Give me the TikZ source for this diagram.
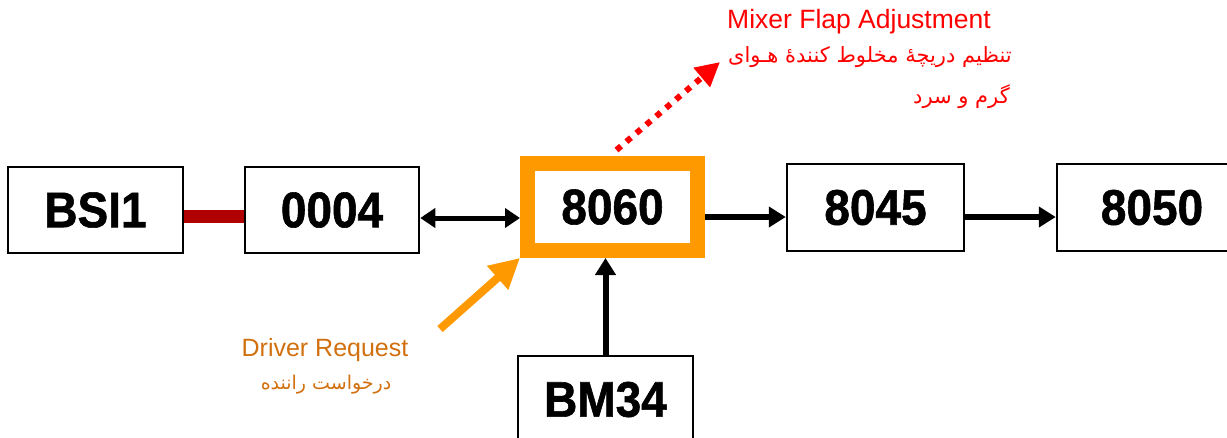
\documentclass[tikz,border=0pt]{standalone}
\usepackage{fontspec}
\setmainfont{Liberation Sans}
\newfontfamily\arabicfont[Script=Arabic]{DejaVu Sans}
\newfontfamily\boxfont[FakeBold=1.2]{Liberation Sans Bold}
\TeXXeTstate=1
\usetikzlibrary{arrows.meta}
\definecolor{hotorange}{HTML}{FF9900}
\definecolor{bardred}{HTML}{B00000}
\definecolor{reqorange}{HTML}{D2700F}
\definecolor{mixred}{HTML}{FF0000}
\newcommand{\boxlbl}[1]{\scalebox{0.92}[1]{#1}}
\begin{document}
\begin{tikzpicture}[x=1pt,y=-1pt,
  box/.style={draw=black, line width=2.5pt, fill=white, inner sep=0pt,
    minimum width=175pt, minimum height=86pt,
    font=\fontsize{50}{50}\selectfont\boxfont},
  hotbox/.style={draw=hotorange, line width=15pt, fill=white, inner sep=0pt,
    minimum width=170pt, minimum height=87pt,
    font=\fontsize{50}{50}\selectfont\boxfont},
  arr/.style={line width=6pt, -{Triangle[length=17pt,width=20pt]}},
  dblarr/.style={line width=5pt, {Triangle[length=15pt,width=19pt]}-{Triangle[length=15pt,width=19pt]}},
  entxt/.style={inner sep=0pt, font=\fontsize{26.5}{26.5}\selectfont},
  drvtxt/.style={inner sep=0pt, font=\fontsize{25}{25}\selectfont},
  fatxt/.style={inner sep=0pt, font=\fontsize{21}{21}\selectfont\arabicfont},
  drvfatxt/.style={inner sep=0pt, font=\fontsize{19}{19}\selectfont\arabicfont},
]
\useasboundingbox (0,0) rectangle (1227,437);
\clip (0,0) rectangle (1227,437);
\fill[white] (0,0) rectangle (1227,437);

% boxes
\node[box] (bsi) at (95.5,210) {\boxlbl{BSI1}};
\node[box, minimum width=174pt] (n0004) at (332,210) {\boxlbl{0004}};
\node[hotbox] (n8060) at (612.5,207) {\boxlbl{8060}};
\node[box, minimum width=177pt, minimum height=87pt] (n8045) at (875.5,207.5) {\boxlbl{8045}};
\node[box, minimum width=190pt, minimum height=87pt] (n8050) at (1152,207.5) {\boxlbl{8050}};
\node[box, minimum height=87pt] (bm34) at (605.5,399.5) {\boxlbl{BM34}};

% connectors
\draw[bardred, line width=13pt] ([yshift=-6pt]bsi.east) -- ([yshift=-6pt]n0004.west);
\draw[dblarr] ([yshift=-8pt]n0004.east) -- ([yshift=-11pt]n8060.west);
\draw[arr] ([yshift=-10pt]n8060.east) -- ([yshift=-9.5pt]n8045.west);
\draw[arr] ([yshift=-9.5pt]n8045.east) -- ([yshift=-9.5pt]n8050.west);
\draw[arr] (bm34.north) -- (bm34.north |- n8060.south);

% driver request
\coordinate (drvstart) at (440,329);
\draw[hotorange, line width=8pt, -{Triangle[length=30pt,width=30pt]}] (drvstart) -- (n8060.south west);
\node[drvtxt, text=reqorange] (drv) at (325,350) {Driver Request};
\node[drvfatxt, text=reqorange] (drvfa) at (326,385) {\beginR درخواست راننده\endR};

% mixer flap
\coordinate (mixend) at (720,62);
\draw[mixred, line width=6pt, dash pattern=on 6pt off 7pt, -{Triangle[length=24pt,width=24pt]}] ([xshift=4pt,yshift=6pt]n8060.north) -- (mixend);
\node[entxt, text=mixred, anchor=west] (mix) at (727,22) {Mixer Flap Adjustment};
\node[fatxt, text=mixred, anchor=east] (mixfa1) at (1012,57) {\beginR تنظیم دریچهٔ مخلوط کنندهٔ هـوای\endR};
\node[fatxt, text=mixred, anchor=east] (mixfa2) at (1010,97) {\beginR گرم و سرد\endR};
\end{tikzpicture}
\end{document}
